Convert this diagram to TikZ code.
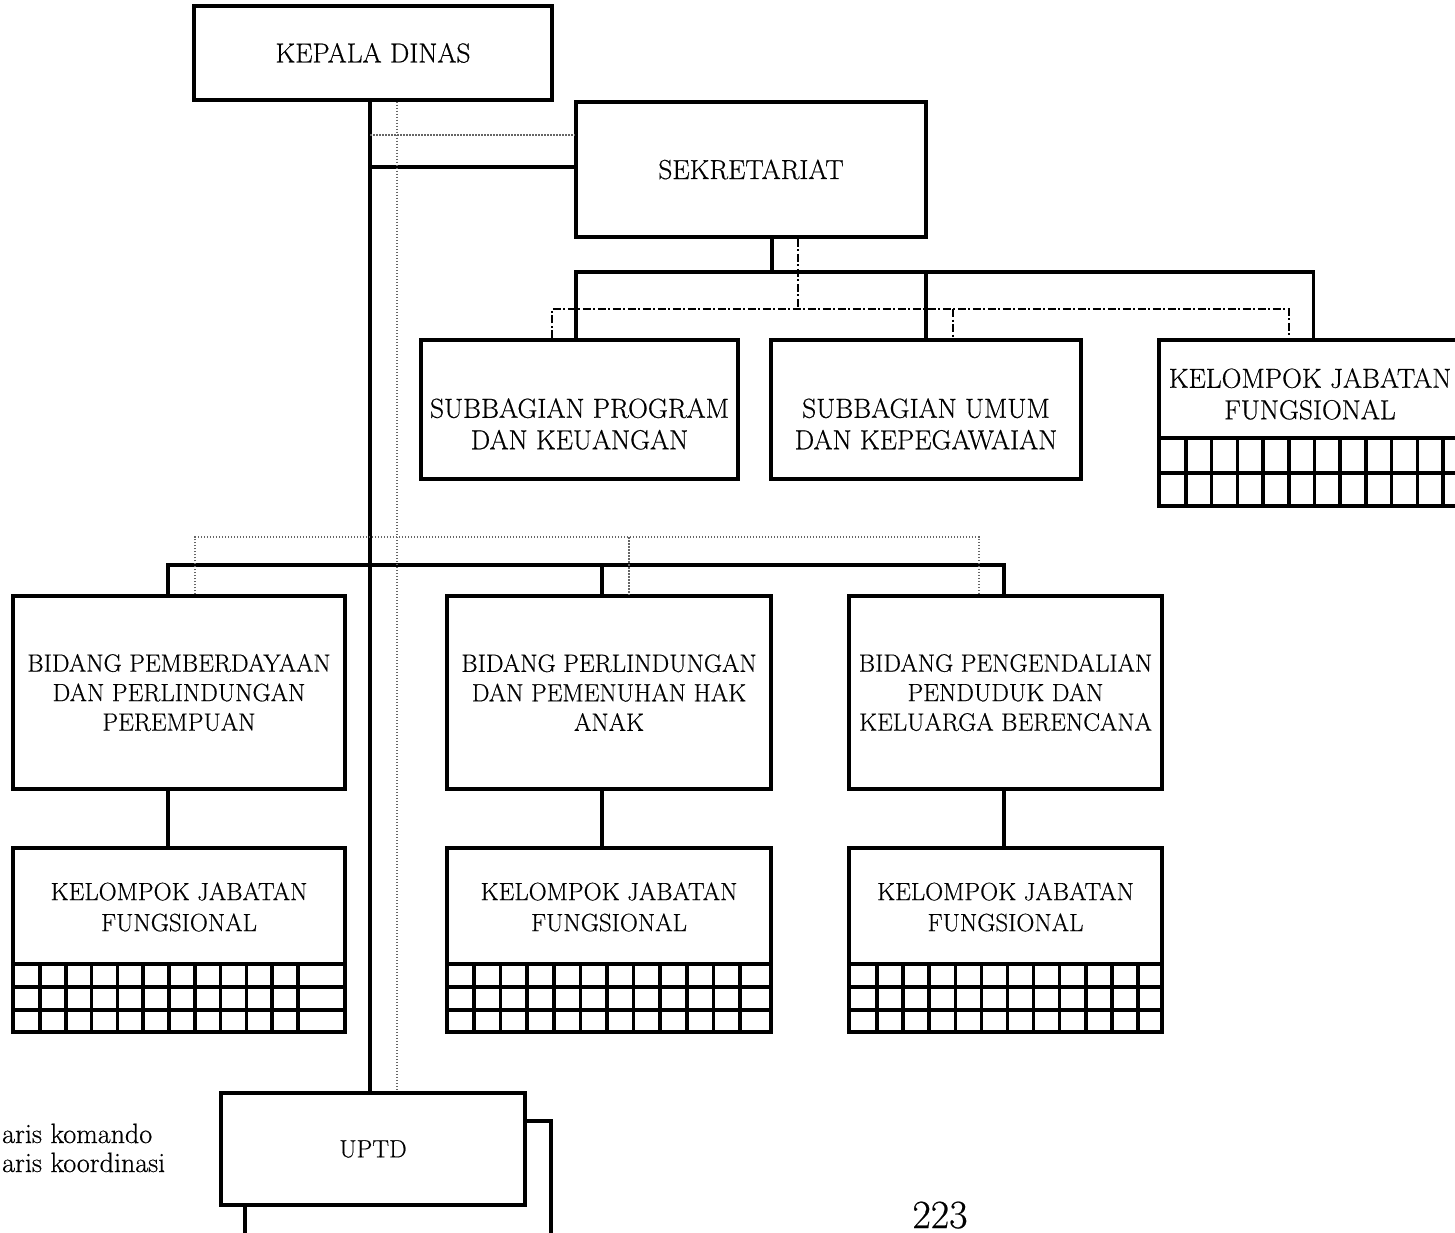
\documentclass[tikz,border=0pt]{standalone}
\usepackage{fontspec}
\setmainfont{Latin Modern Roman}[FakeBold=0.5]
\newcommand\fbig{\fontsize{27.5}{31.5}\selectfont}
\newcommand\fmid{\fontsize{25}{29.5}\selectfont}
\newcommand\fkel{\fontsize{25}{31}\selectfont}
\newcommand\fleg{\fontsize{28}{29}\selectfont}
\begin{document}
\begin{tikzpicture}[x=1pt,y=-1pt,
  box/.style={draw, line width=3.5pt, rectangle, inner sep=0pt, align=center},
  lbl/.style={inner sep=0pt, align=center},
  cmd/.style={line width=3.5pt},
  kor/.style={line width=1.3pt, black!60, dash pattern=on 1.5pt off 1.5pt},
  korsek/.style={line width=2pt, dash pattern=on 8pt off 2.5pt on 2pt off 2.5pt},
  gridln/.style={line width=3.5pt}]
\useasboundingbox (0,0) rectangle (1455,1233);
\begin{scope}
\clip (0,0) rectangle (1455,1233);
% boxes
\node[box, font=\fbig, minimum width=358pt, minimum height=94pt] (kd) at (373,53) {KEPALA DINAS};
\node[box, font=\fbig, minimum width=350pt, minimum height=135pt] (sek) at (751,169.5) {SEKRETARIAT};
\node[box, minimum width=317pt, minimum height=139pt] (sp) at (579.5,409.5) {};
\node[lbl, font=\fbig] (spt) at (579.5,424) {SUBBAGIAN PROGRAM\\DAN KEUANGAN};
\node[box, minimum width=310pt, minimum height=139pt] (su) at (926,409.5) {};
\node[lbl, font=\fbig] (sut) at (926,424) {SUBBAGIAN UMUM\\DAN KEPEGAWAIAN};
\node[box, minimum width=309pt, minimum height=166pt] (kjt) at (1313.5,423) {};
\node[lbl, font=\fbig] (kjtt) at (1310,394) {KELOMPOK JABATAN\\FUNGSIONAL};
\node[box, font=\fmid, minimum width=332pt, minimum height=193pt] (b1) at (179,692.5) {BIDANG PEMBERDAYAAN\\DAN PERLINDUNGAN\\PEREMPUAN};
\node[box, font=\fmid, minimum width=324pt, minimum height=193pt] (b2) at (609,692.5) {BIDANG PERLINDUNGAN\\DAN PEMENUHAN HAK\\ANAK};
\node[box, font=\fmid, minimum width=313pt, minimum height=193pt] (b3) at (1005.5,692.5) {BIDANG PENGENDALIAN\\PENDUDUK DAN\\KELUARGA BERENCANA};
\node[box, minimum width=332pt, minimum height=184pt] (k1) at (179,940) {};
\node[lbl, font=\fkel] (k1t) at (179,907) {KELOMPOK JABATAN\\FUNGSIONAL};
\node[box, minimum width=324pt, minimum height=184pt] (k2) at (609,940) {};
\node[lbl, font=\fkel] (k2t) at (609,907) {KELOMPOK JABATAN\\FUNGSIONAL};
\node[box, minimum width=313pt, minimum height=184pt] (k3) at (1005.5,940) {};
\node[lbl, font=\fkel] (k3t) at (1005.5,907) {KELOMPOK JABATAN\\FUNGSIONAL};
\node[box, font=\fmid, minimum width=304pt, minimum height=112pt] (uptd) at (373,1149) {UPTD};
% grids
\foreach \y in {438,473} \draw[gridln] (kjt.west |- 0,\y) -- (kjt.east |- 0,\y);
\foreach \i in {0,...,10} \draw[gridln] ({1186+25.7*\i},438) -- ({1186+25.7*\i},506);
\foreach \y in {964,987,1010} \draw[gridln] (k1.west |- 0,\y) -- (k1.east |- 0,\y);
\foreach \i in {0,...,10} \draw[gridln] ({40+25.8*\i},964) -- ({40+25.8*\i},1032);
\foreach \y in {964,987,1010} \draw[gridln] (k2.west |- 0,\y) -- (k2.east |- 0,\y);
\foreach \i in {0,...,10} \draw[gridln] ({474+26.6*\i},964) -- ({474+26.6*\i},1032);
\foreach \y in {964,987,1010} \draw[gridln] (k3.west |- 0,\y) -- (k3.east |- 0,\y);
\foreach \i in {0,...,10} \draw[gridln] ({877+26.1*\i},964) -- ({877+26.1*\i},1032);
% command lines
\draw[cmd] (kd.south -| 370,0) -- (uptd.north -| 370,0);
\draw[cmd] (370,167) -- (sek.west |- 0,167);
\draw[cmd] (sek.south -| 772,0) -- (772,272);
\draw[cmd] (sp.north -| 576,0) -- (576,272) -- (1313.5,272) -- (kjt.north);
\draw[cmd] (926,272) -- (su.north);
\draw[cmd] (b1.north -| 168,0) -- (168,565) -- (1004,565) -- (b3.north -| 1004,0);
\draw[cmd] (602,565) -- (b2.north -| 602,0);
\draw[cmd] (b1.south -| 168,0) -- (k1.north -| 168,0);
\draw[cmd] (b2.south -| 602,0) -- (k2.north -| 602,0);
\draw[cmd] (b3.south -| 1004,0) -- (k3.north -| 1004,0);
\coordinate (e1) at (551,1233);
\coordinate (e2) at (245,1233);
\draw[cmd] (uptd.east |- 0,1121) -- (551,1121) -- (e1);
\draw[cmd] (uptd.south -| e2) -- (e2);
% coordination lines
\draw[kor] (kd.south -| 397,0) -- (uptd.north -| 397,0);
\draw[kor] (370,135) -- (sek.west |- 0,135);
\draw[kor] (b1.north -| 195,0) -- (195,537) -- (979,537) -- (b3.north -| 979,0);
\draw[kor] (629,537) -- (b2.north -| 629,0);
\draw[korsek] (sek.south -| 798,0) -- (798,309);
\draw[korsek] (sp.north -| 552,0) -- (552,309) -- (1289,309) -- (kjt.north -| 1289,0);
\draw[korsek] (953,309) -- (su.north -| 953,0);
% legend and page number
\node[anchor=base west, inner sep=0pt, font=\fleg] (lg1) at (2,1143) {aris komando};
\node[anchor=base west, inner sep=0pt, font=\fleg] (lg2) at (2,1172) {aris koordinasi};
\node[anchor=base, inner sep=0pt, font=\fontsize{40}{44}\selectfont] (pg) at (940,1228) {223};
\end{scope}
\end{tikzpicture}
\end{document}
